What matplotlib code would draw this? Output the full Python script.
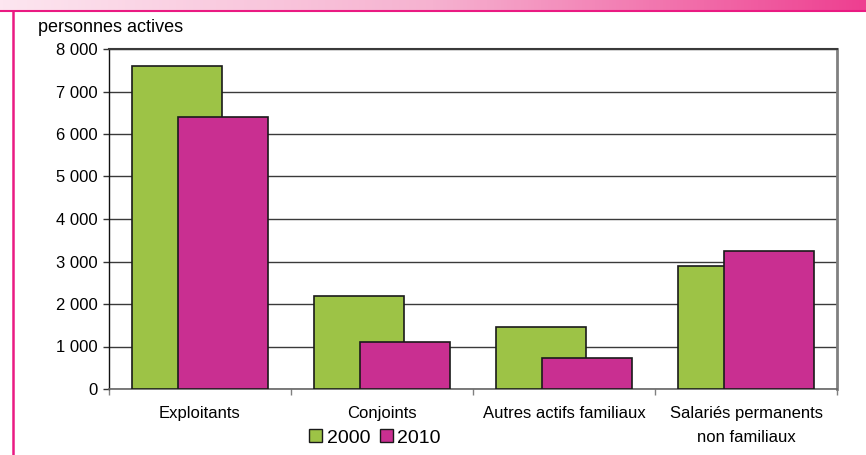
import matplotlib
matplotlib.use("Agg")
import matplotlib.pyplot as plt
import numpy as np
from matplotlib.lines import Line2D
from matplotlib.patches import Patch
from matplotlib.colors import LinearSegmentedColormap

plt.rcParams['font.family'] = ['Liberation Sans', 'DejaVu Sans']

categories = ["Exploitants", "Conjoints", "Autres actifs familiaux",
              "Salariés permanents\nnon familiaux"]
values_2000 = [7600, 2200, 1450, 2900]
values_2010 = [6400, 1100, 720, 3250]
series_labels = ["2000", "2010"]
y_ticks = [0, 1000, 2000, 3000, 4000, 5000, 6000, 7000, 8000]

green = "#9dc346"
magenta = "#c92f91"
edge = "#1a1a1a"

W, H = 866, 455
fig = plt.figure(figsize=(W / 100, H / 100), dpi=100)

# pink header gradient + frame
hdr = fig.add_axes([0, 1 - 10 / H, 1, 10 / H])
cmap = LinearSegmentedColormap.from_list("hdr", ["#fde6f0", "#f6b2d0", "#ee3f90"])
hdr.imshow(np.linspace(0, 1, 256).reshape(1, -1), aspect="auto", cmap=cmap)
hdr.axis("off")
fig.add_artist(Line2D([0, 1], [1 - 11 / H, 1 - 11 / H], color="#ea1a82", lw=1.5,
                      transform=fig.transFigure))
fig.add_artist(Line2D([13 / W, 13 / W], [0, 1 - 11 / H], color="#ea1a82", lw=1.8,
                      transform=fig.transFigure))

ax = fig.add_axes([109 / W, 1 - 389 / H, (837 - 109) / W, (389 - 49) / H])

x = np.arange(len(categories))
width = 0.495
off = 0.124
ax.bar(x - off, values_2000, width, color=green, edgecolor=edge, linewidth=1.2,
       label=series_labels[0], zorder=3)
ax.bar(x + off, values_2010, width, color=magenta, edgecolor=edge, linewidth=1.2,
       label=series_labels[1], zorder=4)

ax.set_xlim(-0.5, len(categories) - 0.5)
ax.set_ylim(0, 8000)
ax.set_yticks(y_ticks)
ax.set_yticklabels([f"{v:,}".replace(",", " ") for v in y_ticks])
ax.yaxis.grid(True, color="#3a3a3a", linewidth=1.0, zorder=0)
ax.set_axisbelow(True)

ax.set_xticks(x)
ax.set_xticklabels(categories, linespacing=1.75)
ax.set_xticks(np.arange(-0.5, len(categories), 1.0), minor=True)
ax.tick_params(axis="x", which="major", length=0, pad=12, labelsize=12)
ax.tick_params(axis="x", which="minor", length=4, width=1, color="#808080", direction="out")
ax.tick_params(axis="y", length=4, width=1, color="#333333", direction="out", pad=4, labelsize=12)

ax.spines["left"].set_color("#111111")
ax.spines["left"].set_linewidth(1.0)
ax.spines["top"].set_color("#3a3a3a")
ax.spines["top"].set_linewidth(1.5)
ax.spines["right"].set_color("#808080")
ax.spines["right"].set_linewidth(2.0)
ax.spines["bottom"].set_color("#666666")
ax.spines["bottom"].set_linewidth(1.2)

fig.text(38 / W, 1 - 27 / H, "personnes actives", fontsize=13, va="center", ha="left")

handles = [Patch(facecolor=green, edgecolor=edge, linewidth=1.0),
           Patch(facecolor=magenta, edgecolor=edge, linewidth=1.0)]
fig.legend(handles, series_labels, loc="center", bbox_to_anchor=(375 / W, 1 - 438 / H),
           ncol=2, frameon=False, fontsize=14, handlelength=0.65, handleheight=0.65,
           handletextpad=0.25, columnspacing=0.5, borderpad=0)

fig.savefig("out.png", dpi=100)
